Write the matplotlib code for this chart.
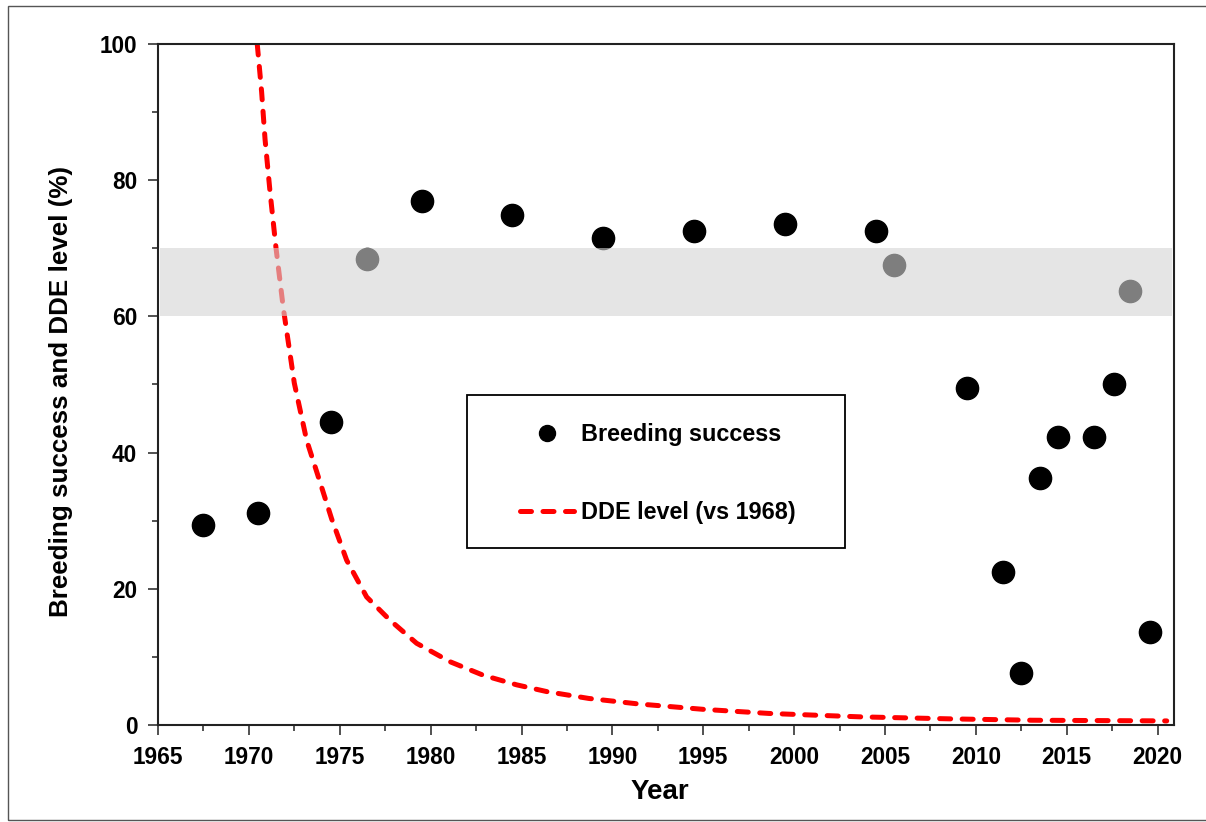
import matplotlib
matplotlib.use("Agg")
import matplotlib.pyplot as plt
from matplotlib.patches import Rectangle
from matplotlib.ticker import MultipleLocator

plt.rcParams.update({
    'font.family': ['Liberation Sans', 'DejaVu Sans'],
    'font.weight': 'bold',
    'axes.linewidth': 1.5,
    'xtick.major.width': 1.2,
    'ytick.major.width': 1.2,
    'xtick.minor.width': 1.2,
    'ytick.minor.width': 1.2,
})

# breeding success (%)
years = [1967.5, 1970.5, 1974.5, 1976.5, 1979.5, 1984.5, 1989.5, 1994.5,
         1999.5, 2004.5, 2005.5, 2009.5, 2011.5, 2012.5, 2013.5, 2014.5,
         2016.5, 2017.6, 2018.5, 2019.6]
success = [29.4, 31.2, 44.5, 68.4, 77.0, 74.9, 71.5, 72.6,
           73.6, 72.6, 67.5, 49.5, 22.4, 7.6, 36.3, 42.3,
           42.3, 50.0, 63.8, 13.6]

# DDE level relative to 1968 (%)
dde_years = [1970.46, 1970.70, 1970.89, 1971.16, 1971.49, 1971.89, 1972.5,
             1973.18, 1973.91, 1974.55, 1975.38, 1976.48, 1977.76, 1979.23,
             1981.06, 1982.9, 1984.73, 1986.4, 1988.7, 1991.4, 1995.0,
             1998.6, 2003.6, 2008.6, 2013.1, 2020.5]
dde_level = [100, 93.0, 86.0, 78.4, 70.1, 61.3, 50.2,
             41.8, 35.7, 30.3, 24.2, 18.8, 15.4, 12.0,
             9.3, 7.3, 5.9, 4.9, 3.9, 3.1, 2.3,
             1.7, 1.2, 0.9, 0.7, 0.6]

# reference band (%)
band_low, band_high = 60, 70

W, H = 1206, 822
fig = plt.figure(figsize=(W / 100, H / 100), dpi=100)
ax = fig.add_axes([158 / W, 1 - 725 / H, 1016 / W, 681 / H])

ax.plot(years, success, 'o', color='black', ms=16, ls='none',
        label='Breeding success', zorder=2)
ax.plot(dde_years, dde_level, color='red', lw=3.6, ls=(0, (2.2, 2.3)),
        dash_capstyle='round', label='DDE level (vs 1968)', zorder=2)
ax.axhspan(band_low, band_high, xmin=0.002, xmax=0.998,
           color='#d4d4d4', alpha=0.6, lw=0, zorder=3)

ax.set_xlim(1965, 2020.9)
ax.set_ylim(0, 100)
ax.xaxis.set_major_locator(MultipleLocator(5))
ax.xaxis.set_minor_locator(MultipleLocator(2.5))
ax.yaxis.set_major_locator(MultipleLocator(20))
ax.yaxis.set_minor_locator(MultipleLocator(10))
ax.tick_params(which='major', length=7, labelsize=16.3, pad=8, color='#333333')
ax.tick_params(which='minor', length=4.5, color='#333333')
for sp in ax.spines.values():
    sp.set_color('#222222')

ax.set_xlabel('Year', fontsize=20, fontweight='bold')
ax.set_ylabel('Breeding success and DDE level (%)', fontsize=18.7, fontweight='bold')
ax.xaxis.set_label_coords(0.494, -0.08)
ax.yaxis.set_label_coords(-0.084, 0.49)

# legend box drawn separately so its size matches the original
ax.add_patch(Rectangle((0.304, 0.26), 0.372, 0.2246, transform=ax.transAxes,
                       fill=True, fc='white', ec='black', lw=1.3, zorder=5))
leg = ax.legend(loc='center', bbox_to_anchor=(0.492, 0.369), fontsize=16.8,
                frameon=False, borderpad=0, labelspacing=2.35, handlelength=2.3,
                handletextpad=0.3, markerscale=0.72)
leg.set_zorder(6)

fig.patches.append(Rectangle((8 / W, 2 / H), 1210 / W, 814 / H, fill=False,
                             ec='#555555', lw=1.0, transform=fig.transFigure))

fig.savefig('out.png', dpi=100)
